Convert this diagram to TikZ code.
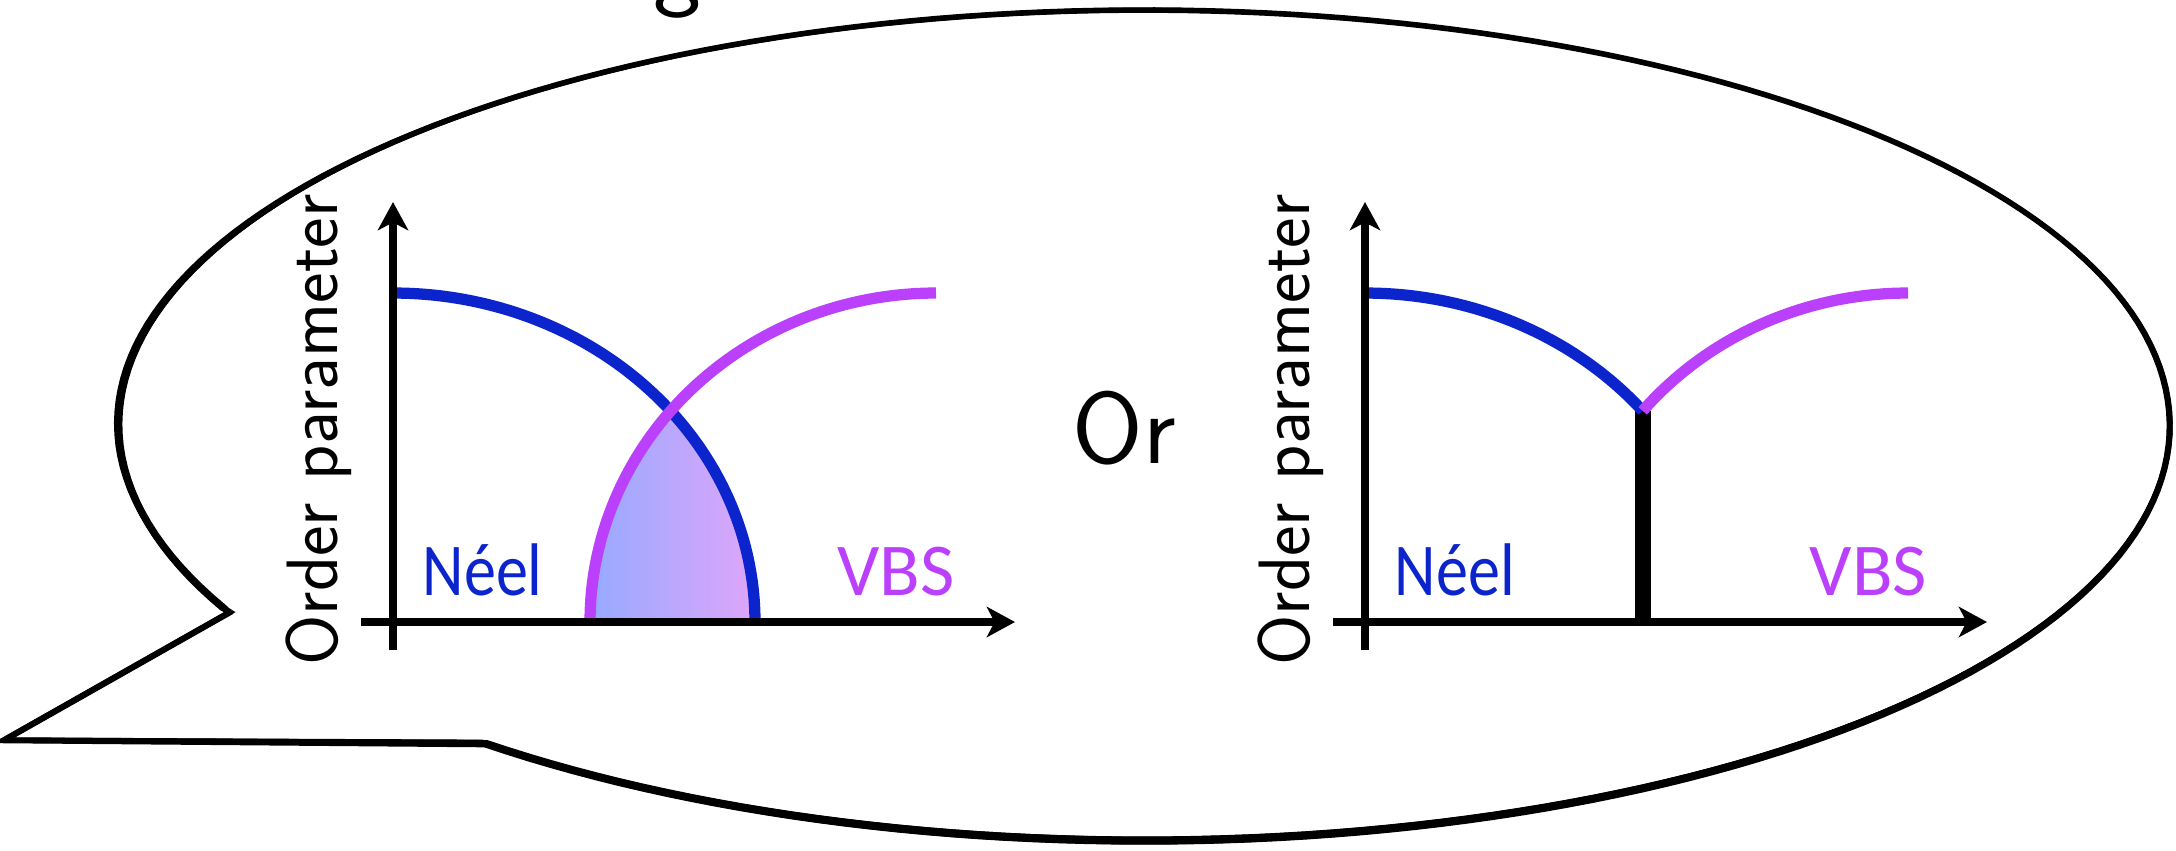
\documentclass[tikz,border=0pt]{standalone}
\usepackage{fontspec}
\newfontfamily\calib{Carlito}
\usetikzlibrary{arrows.meta}
\definecolor{neelblue}{RGB}{12,36,204}
\definecolor{vbsmag}{RGB}{187,64,252}
\definecolor{gradL}{RGB}{150,170,255}
\definecolor{gradR}{RGB}{222,165,250}
\newcommand\speechpath[5]{%
  \draw[line width=#5, line join=miter]
    plot[domain=130:-206.0, samples=220] ({1144+#1+(1026+#3)*cos(\x)},{425+#2+(415+#4)*sin(\x)})
    -- (230+#1,612+#2) -- (4+#1,740+#2) -- cycle;}
\tikzset{
  axisline/.style={line width=2.2pt, -{Stealth[length=8pt,width=8.6pt,inset=2.2pt]}},
  neelcurve/.style={neelblue, line width=3.2pt},
  vbscurve/.style={vbsmag, line width=3.2pt},
  oplabel/.style={rotate=90, inner sep=0pt, font=\sffamily\fontsize{20.7}{25}\selectfont},
  phaselabel/.style={inner sep=0pt, font=\calib\fontsize{21.2}{25}\selectfont},
  bigtext/.style={inner sep=0pt, font=\sffamily\fontsize{29}{34}\selectfont},
}
\begin{document}
\begin{tikzpicture}[x=0.01cm, y=-0.01cm]
\useasboundingbox (0,0) rectangle (2176,850);
\fill[white] (0,0) rectangle (2176,850);
% speech bubble (sketchy strokes)
\speechpath{0}{0}{0}{0}{1.6pt}
\speechpath{1.5}{1}{-1}{1}{0.6pt}
\speechpath{-1}{-1.5}{2}{-1}{0.6pt}
\speechpath{0.5}{2}{1}{1.5}{0.7pt}
\speechpath{-0.5}{1}{-2}{2.5}{0.5pt}
\speechpath{1}{-0.5}{-2.5}{-2}{0.5pt}
% clipped text line at the top
\node[bigtext, anchor=base] (topg) at (677,-2.5) {g};
% ---------------- left plot ----------------
\begin{scope}[shift={(393,622)}]
  \fill[left color=gradL, right color=gradR]
    plot[domain=0:39.93, samples=40] ({543-346*cos(\x)},{-329*sin(\x)})
    -- plot[domain=39.93:0, samples=40] ({362*cos(\x)},{-329*sin(\x)}) -- cycle;
  \draw[neelcurve] plot[domain=90:0, samples=90] ({362*cos(\x)},{-329*sin(\x)});
  \draw[vbscurve] plot[domain=0:90, samples=90] ({543-346*cos(\x)},{-329*sin(\x)});
  \coordinate (Ly0) at (0,28);  \coordinate (Ly1) at (0,-420);
  \coordinate (Lx0) at (-32,0); \coordinate (Lx1) at (622,0);
  \draw[axisline] (Ly0) -- (Ly1);
  \draw[axisline] (Lx0) -- (Lx1);
  \node[oplabel, anchor=base] (Lop) at (-56,-192) {Order parameter};
  \node[phaselabel, neelblue, anchor=base west] (Lneel) at (29,-27) {\scalebox{0.86}[1]{Néel}};
  \node[phaselabel, vbsmag, anchor=base west] (Lvbs) at (444,-27) {VBS};
\end{scope}
% ---------------- "Or" ----------------
\node[bigtext, anchor=base west] (ortext) at (1072,463) {Or};
% ---------------- right plot ----------------
\begin{scope}[shift={(1365,622)}]
  \draw[line width=4.5pt] (277.6,0) -- (277.6,-211);
  \draw[neelcurve] plot[domain=90:39.93, samples=60] ({362*cos(\x)},{-329*sin(\x)});
  \draw[vbscurve] plot[domain=39.93:90, samples=60] ({543-346*cos(\x)},{-329*sin(\x)});
  \coordinate (Ry0) at (0,28);  \coordinate (Ry1) at (0,-420);
  \coordinate (Rx0) at (-32,0); \coordinate (Rx1) at (622,0);
  \draw[axisline] (Ry0) -- (Ry1);
  \draw[axisline] (Rx0) -- (Rx1);
  \node[oplabel, anchor=base] (Rop) at (-56,-192) {Order parameter};
  \node[phaselabel, neelblue, anchor=base west] (Rneel) at (29,-27) {\scalebox{0.86}[1]{Néel}};
  \node[phaselabel, vbsmag, anchor=base west] (Rvbs) at (444,-27) {VBS};
\end{scope}
\end{tikzpicture}
\end{document}
